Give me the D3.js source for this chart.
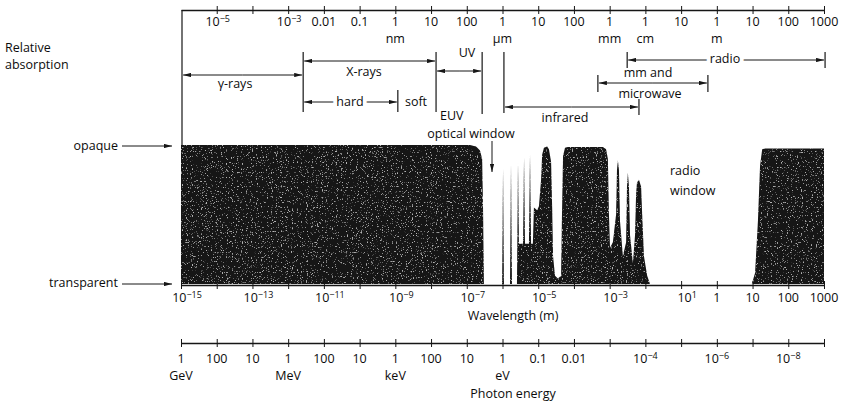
<!DOCTYPE html>
<html>
<head>
<meta charset="utf-8">
<script src="https://cdn.jsdelivr.net/npm/d3@7"></script>
<style>
  body { margin: 0; background: #fff; }
  svg text { font-family: "Open Sans", sans-serif; font-size: 12.5px; fill: #0c0c0c; }
</style>
</head>
<body>
<div id="chart"></div>
<script>
const width = 858;
const height = 409;
const ink = "#161616";

// absorption curve: log10(wavelength / m) and relative absorption (0 = transparent, 1 = opaque)
const absLogWave = [-15, -6.91, -6.74, -6.63, -6.57, -6.545, -6.52,
	-6.01, -5.985, -5.96, -5.79, -5.762, -5.735,
	-5.595, -5.566, -5.54, -5.425, -5.397, -5.37, -5.26, -5.23, -5.20,
	-5.15, -5.12, -5.03, -4.98, -4.92, -4.89, -4.84, -4.75, -4.70, -4.64, -4.61, -4.585,
	-4.53, -4.45, -4.36, -4.335, -4.305, -4.25, -4.17, -3.19, -3.10, -3.05, -3.02,
	-2.99, -2.91, -2.82, -2.795, -2.77, -2.74, -2.71, -2.63, -2.54, -2.515, -2.49, -2.46, -2.43,
	-2.35, -2.29, -2.26, -2.235, -2.18, -2.12, -2.09, -2.04, -1.95, -1.87,
	0.98, 1.07, 1.15, 1.21, 1.27, 1.35, 3];
const absLevel = [1, 1, 0.99, 0.96, 0.9, 0.55, 0,
	0, 0.83, 0, 0, 0.86, 0,
	0, 0.87, 0.29, 0.29, 0.91, 0.29, 0.29, 0.93, 0.29,
	0.29, 0.55, 0.53, 0.56, 0.75, 0.93, 0.98, 0.99, 0.97, 0.88, 0.55, 0.2,
	0.06, 0.04, 0.06, 0.5, 0.92, 0.98, 0.985, 0.985, 0.97, 0.9, 0.5,
	0.26, 0.3, 0.5, 0.82, 0.89, 0.82, 0.45, 0.2, 0.3, 0.7, 0.8, 0.7, 0.35,
	0.15, 0.35, 0.65, 0.73, 0.75, 0.7, 0.5, 0.2, 0.06, 0,
	0, 0.08, 0.45, 0.85, 0.97, 0.975, 0.975];

// bottom wavelength axis (m)
const waveLabelExp = [-15, -13, -11, -9, -7, -5, -3, -1, 0, 1, 2, 3];
const waveLabelText = ["10^-15", "10^-13", "10^-11", "10^-9", "10^-7", "10^-5", "10^-3", "10^1", "1", "10", "100", "1000"];

// top wavelength axis, in convenient units
const topLabelExp = [-14, -12, -11, -10, -9, -8, -7, -6, -5, -4, -3, -2, -1, 0, 1, 2, 3];
const topLabelText = ["10^-5", "10^-3", "0.01", "0.1", "1", "10", "100", "1", "10", "100", "1", "1", "10", "1", "10", "100", "1000"];
const topUnitExp = [-9, -6, -3, -2, 0];
const topUnitText = ["nm", "µm", "mm", "cm", "m"];

// photon energy axis (eV)
const energyLabelVal = [1e9, 1e8, 1e7, 1e6, 1e5, 1e4, 1e3, 1e2, 1e1, 1, 0.1, 0.01, 1e-4, 1e-6, 1e-8];
const energyLabelText = ["1", "100", "10", "1", "100", "10", "1", "100", "10", "1", "0.1", "0.01", "10^-4", "10^-6", "10^-8"];
const energyUnitVal = [1e9, 1e6, 1e3, 1];
const energyUnitText = ["GeV", "MeV", "keV", "eV"];

// spectral bands, log10(wavelength / m)
const bandName = ["γ-rays", "X-rays", "UV", "hard", "infrared", "mm and microwave", "radio"];
const bandFrom = [-14.97, -11.58, -7.86, -11.58, -5.96, -3.33, -2.51];
const bandTo = [-11.58, -7.86, -6.57, -8.93, -2.18, -0.25, 3.03];

const x = d3.scaleLog().domain([1e-15, 1e3]).range([181, 824]);
const y = d3.scaleLinear().domain([0, 1]).range([284, 145]);
const energy = d3.scaleLog().domain([1e9, 1e-9]).range([181, 824]);
const xe = e => x(Math.pow(10, e));

const svg = d3.select("#chart").append("svg")
	.attr("width", width)
	.attr("height", height);

const defs = svg.append("defs");
defs.append("marker")
	.attr("id", "arrow")
	.attr("viewBox", "0 0 10 6")
	.attr("refX", 10)
	.attr("refY", 3)
	.attr("markerWidth", 8)
	.attr("markerHeight", 4.8)
	.attr("markerUnits", "userSpaceOnUse")
	.attr("orient", "auto-start-reverse")
	.append("path")
	.attr("d", "M0,0.3L10,3L0,5.7Z")
	.attr("fill", ink);

// scanned-print grain for the black fill
const grain = defs.append("filter").attr("id", "grain");
grain.append("feTurbulence")
	.attr("type", "fractalNoise")
	.attr("baseFrequency", 0.8)
	.attr("numOctaves", 2)
	.attr("seed", 4)
	.attr("result", "noise");
grain.append("feColorMatrix")
	.attr("in", "noise")
	.attr("type", "matrix")
	.attr("values", "0 0 0 0 1  0 0 0 0 1  0 0 0 0 1  7 0 0 0 -4.4")
	.attr("result", "specks");
grain.append("feComposite")
	.attr("in", "specks")
	.attr("in2", "SourceAlpha")
	.attr("operator", "in")
	.attr("result", "clipped");
grain.append("feComponentTransfer")
	.attr("in", "clipped")
	.attr("result", "faint")
	.append("feFuncA")
	.attr("type", "linear")
	.attr("slope", 0.45);
const merge = grain.append("feMerge");
merge.append("feMergeNode").attr("in", "SourceGraphic");
merge.append("feMergeNode").attr("in", "faint");

// text with optional superscript, "10^-5"
function label(g, str, px, py, anchor) {
	const [base, sup] = str.split("^");
	const t = g.append("text")
		.attr("x", px)
		.attr("y", py)
		.attr("dy", "0.35em")
		.attr("text-anchor", anchor || "middle");
	t.append("tspan").text(base);
	if (sup) {
		t.append("tspan")
			.attr("dy", "-0.45em")
			.attr("font-size", "9px")
			.text(sup.replace("-", "\u2212"));
	}
	return t;
}

function vline(px, y1, y2) {
	svg.append("line")
		.attr("x1", px).attr("x2", px)
		.attr("y1", y1).attr("y2", y2)
		.attr("stroke", ink)
		.attr("stroke-width", 1.2);
}

function arrowLine(x1, y1, x2, y2) {
	return svg.append("line")
		.attr("x1", x1).attr("y1", y1)
		.attr("x2", x2).attr("y2", y2)
		.attr("stroke", ink)
		.attr("stroke-width", 1)
		.attr("marker-end", "url(#arrow)");
}

// a band bracket with arrows pointing out to both ends
function bracket(i, by) {
	const a = xe(bandFrom[i]), b = xe(bandTo[i]);
	arrowLine((a + b) / 2, by, a + 1, by);
	arrowLine((a + b) / 2, by, b - 1, by);
	return [a, b];
}

// absorption area
const absData = absLogWave.map((w, i) => [w, absLevel[i]]);
const area = d3.area()
	.x(d => xe(d[0]))
	.y0(y(0))
	.y1(d => y(d[1]));

svg.append("path")
	.datum(absData)
	.attr("d", area)
	.attr("fill", "#151515")
	.attr("filter", "url(#grain)");

// bottom axis
const bottomAxis = d3.axisBottom(x)
	.tickValues(d3.range(-15, 4).map(e => Math.pow(10, e)))
	.tickSize(4)
	.tickSizeOuter(0)
	.tickFormat("");

svg.append("g")
	.attr("transform", `translate(0,${y(0) + 1})`)
	.call(bottomAxis)
	.call(g => g.selectAll(".tick line").attr("y1", -4).attr("stroke", ink))
	.call(g => g.select(".domain").attr("stroke", ink).attr("stroke-width", 1.3));

const gBottom = svg.append("g");
waveLabelExp.forEach((e, i) => {
	const t = waveLabelText[i];
	label(gBottom, t, xe(e) + (t.includes("^") ? 6 : 0), 298);
});
label(gBottom, "Wavelength (m)", 513, 316);

// top axis
const topAxis = d3.axisTop(x)
	.tickValues(d3.range(-14, 4).map(e => Math.pow(10, e)))
	.tickSize(4)
	.tickSizeOuter(0)
	.tickFormat("");

svg.append("g")
	.attr("transform", "translate(0,10)")
	.call(topAxis)
	.call(g => g.selectAll(".tick line").attr("y1", 4).attr("stroke", ink))
	.call(g => g.select(".domain").attr("stroke", ink).attr("stroke-width", 1.3));

const gTop = svg.append("g");
topLabelExp.forEach((e, i) => {
	const t = topLabelText[i];
	label(gTop, t, xe(e) + (t.includes("^") ? 1 : 0), 22);
});
topUnitExp.forEach((e, i) => label(gTop, topUnitText[i], xe(e), 39));

// left frame line from top axis down to the opaque level
vline(182, 10, 145);

// photon energy axis
const energyAxis = d3.axisBottom(energy)
	.tickValues(d3.range(9, -10, -1).map(e => Math.pow(10, e)))
	.tickSize(4)
	.tickSizeOuter(0)
	.tickFormat("");

svg.append("g")
	.attr("transform", "translate(0,343)")
	.call(energyAxis)
	.call(g => g.selectAll(".tick line").attr("y1", -4).attr("stroke", ink))
	.call(g => g.select(".domain").attr("stroke", ink).attr("stroke-width", 1.3));

const gEnergy = svg.append("g");
energyLabelVal.forEach((v, i) => label(gEnergy, energyLabelText[i], energy(v), 359));
energyUnitVal.forEach((v, i) => label(gEnergy, energyUnitText[i], energy(v), 376));
label(gEnergy, "Photon energy", 513, 394);

// y-axis annotations
label(svg, "Relative", 5, 48, "start");
label(svg, "absorption", 5, 65, "start");
label(svg, "opaque", 118, 146, "end");
arrowLine(122, 146, 172, 146);
label(svg, "transparent", 118, 283, "end");
arrowLine(122, 284, 172, 284);

// γ-rays
bracket(0, 75);
label(svg, bandName[0], 235, 84);

// X-rays
const xr = bracket(1, 61);
vline(xr[0], 52, 112);
vline(xr[1], 52, 112);
label(svg, bandName[1], 364, 72);

// UV
const uv = bracket(2, 71);
vline(uv[1], 52, 114);
label(svg, bandName[2], 467, 53);

// hard / soft
const hd = bracket(3, 102);
vline(hd[1], 90, 112);
label(svg, bandName[3], 350, 102)
	.attr("stroke", "#fff").attr("stroke-width", 8).attr("paint-order", "stroke");
label(svg, "soft", 416, 102);
label(svg, "EUV", 440, 116, "start");

// infrared
const ir = bracket(4, 107);
vline(ir[0], 52, 113);
vline(ir[1], 99, 115);
label(svg, bandName[4], 565, 118);

// mm and microwave
const mw = bracket(5, 83);
vline(mw[0], 75, 92);
vline(mw[1], 75, 92);
label(svg, "mm and", 648, 73);
label(svg, "microwave", 650, 94);

// radio
const rd = bracket(6, 60);
vline(rd[0], 52, 68);
vline(rd[1], 52, 68);
label(svg, bandName[6], 725, 59)
	.attr("stroke", "#fff").attr("stroke-width", 8).attr("paint-order", "stroke");

// windows
label(svg, "optical window", 471, 134);
arrowLine(492, 141, 492, 172);
label(svg, "radio", 670, 171, "start");
label(svg, "window", 670, 191, "start");
</script>
</body>
</html>
